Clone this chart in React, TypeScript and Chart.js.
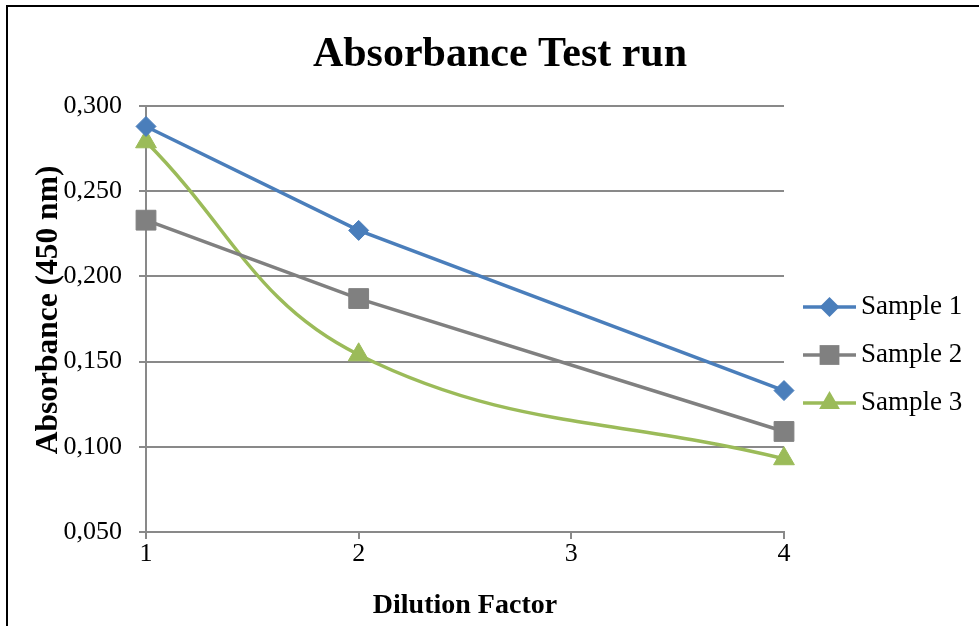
import React, { useEffect, useRef } from 'react';
import { Chart, registerables } from 'chart.js';

Chart.register(...registerables);

const xValues = [1, 2, 4];
const sample1 = [0.288, 0.227, 0.133];
const sample2 = [0.233, 0.187, 0.109];
const sample3 = [0.279, 0.154, 0.093];
const seriesNames = ['Sample 1', 'Sample 2', 'Sample 3'];
const xTicks = [1, 2, 3, 4];
const yTicks = [0.05, 0.1, 0.15, 0.2, 0.25, 0.3];
const chartTitle = 'Absorbance Test run';
const xTitle = 'Dilution Factor';
const yTitle = 'Absorbance (450 nm)';

const FONT = "'Liberation Serif', 'Times New Roman', serif";
const GRID = '#898989';
const COLORS = ['#4A7EBB', '#808080', '#9BBB59'];
const STYLES = ['rectRot', 'rect', 'triangle'];
const RADII = [10, 14, 12];

function drawMarker(ctx: CanvasRenderingContext2D, style: string, x: number, y: number, r: number) {
  ctx.beginPath();
  if (style === 'rectRot') {
    ctx.moveTo(x - r, y);
    ctx.lineTo(x, y - r);
    ctx.lineTo(x + r, y);
    ctx.lineTo(x, y + r);
  } else if (style === 'rect') {
    const s = r * Math.SQRT1_2;
    ctx.rect(x - s, y - s, 2 * s, 2 * s);
  } else {
    for (let k = 0; k < 3; k++) {
      const a = (k * 2 * Math.PI) / 3;
      const px = x + Math.sin(a) * r;
      const py = y - Math.cos(a) * r;
      if (k === 0) ctx.moveTo(px, py);
      else ctx.lineTo(px, py);
    }
  }
  ctx.closePath();
  ctx.fill();
}

const decorPlugin = {
  id: 'decor',
  afterDraw(chart: any) {
    const ctx: CanvasRenderingContext2D = chart.ctx;
    ctx.save();
    // frame
    ctx.strokeStyle = '#000';
    ctx.lineWidth = 2;
    ctx.beginPath();
    ctx.moveTo(7, 626);
    ctx.lineTo(7, 6);
    ctx.lineTo(979, 6);
    ctx.stroke();
    // title
    ctx.fillStyle = '#000';
    ctx.font = `bold 42px ${FONT}`;
    ctx.textAlign = 'center';
    ctx.textBaseline = 'alphabetic';
    ctx.fillText(chartTitle, 500, 66);
    // y axis title
    ctx.save();
    ctx.translate(49, 310);
    ctx.rotate(-Math.PI / 2);
    ctx.font = `bold 31.5px ${FONT}`;
    ctx.textAlign = 'center';
    ctx.textBaseline = 'middle';
    ctx.fillText(yTitle, 0, 0);
    ctx.restore();
    // legend
    const datasets = chart.data.datasets;
    datasets.forEach((ds: any, i: number) => {
      const y = 307 + i * 48;
      ctx.strokeStyle = ds.borderColor;
      ctx.lineWidth = 3.5;
      ctx.beginPath();
      ctx.moveTo(803, y);
      ctx.lineTo(856, y);
      ctx.stroke();
      ctx.fillStyle = ds.pointBackgroundColor;
      drawMarker(ctx, ds.pointStyle, 829.5, y, ds.pointRadius);
      ctx.fillStyle = '#000';
      ctx.font = `27px ${FONT}`;
      ctx.textAlign = 'left';
      ctx.textBaseline = 'middle';
      ctx.fillText(ds.label, 861, y);
    });
    ctx.restore();
  },
};

export default function App() {
  const ref = useRef<HTMLCanvasElement>(null);

  useEffect(() => {
    if (!ref.current) return;
    const series = [sample1, sample2, sample3];
    const chart = new Chart(ref.current, {
      type: 'line',
      data: {
        datasets: series.map((vals, i) => ({
          label: seriesNames[i],
          data: xValues.map((x, j) => ({ x, y: vals[j] })),
          borderColor: COLORS[i],
          backgroundColor: COLORS[i],
          pointBackgroundColor: COLORS[i],
          pointBorderColor: COLORS[i],
          pointBorderWidth: 1,
          pointStyle: STYLES[i] as any,
          pointRadius: RADII[i],
          borderWidth: 3.5,
          tension: i === 2 ? 0.4 : 0,
          clip: false as any,
          fill: false,
        })),
      },
      plugins: [decorPlugin],
      options: {
        animation: false,
        responsive: false,
        devicePixelRatio: 1,
        layout: { padding: { left: 26, top: 106, right: 195, bottom: 0 } },
        plugins: {
          legend: { display: false },
          title: { display: false },
          tooltip: { enabled: false },
        },
        scales: {
          x: {
            type: 'linear',
            position: 'bottom',
            min: 1,
            max: 4,
            afterBuildTicks: (s: any) => {
              s.ticks = xTicks.map((v) => ({ value: v }));
            },
            afterFit: (s: any) => {
              s.height = 94;
            },
            grid: {
              drawOnChartArea: false,
              drawTicks: true,
              tickLength: 7,
              color: GRID,
              lineWidth: 2,
            },
            border: { display: true, color: GRID, width: 2 },
            ticks: {
              color: '#000',
              padding: 2,
              maxRotation: 0,
              autoSkip: false,
              font: { family: FONT, size: 26, lineHeight: 1 },
              callback: (v: any) => String(v),
            },
            title: {
              display: true,
              text: xTitle,
              color: '#000',
              font: { family: FONT, size: 28, weight: 'bold', lineHeight: 1.2 },
              padding: { top: 0, bottom: 3 },
            },
          },
          y: {
            type: 'linear',
            min: 0.05,
            max: 0.3,
            afterBuildTicks: (s: any) => {
              s.ticks = yTicks.map((v) => ({ value: v }));
            },
            afterFit: (s: any) => {
              s.width = 120;
            },
            grid: {
              drawTicks: true,
              tickLength: 7,
              color: GRID,
              lineWidth: 2,
            },
            border: { display: true, color: GRID, width: 2 },
            ticks: {
              color: '#000',
              padding: 17,
              font: { family: FONT, size: 26 },
              callback: (v: any) => Number(v).toFixed(3).replace('.', ','),
            },
            title: { display: false },
          },
        },
      },
    });
    return () => chart.destroy();
  }, []);

  return (
    <div style={{ position: 'absolute', left: 0, top: 0, width: 979, height: 626, background: '#fff' }}>
      <canvas ref={ref} width={979} height={626} style={{ display: 'block', width: 979, height: 626 }} />
    </div>
  );
}
